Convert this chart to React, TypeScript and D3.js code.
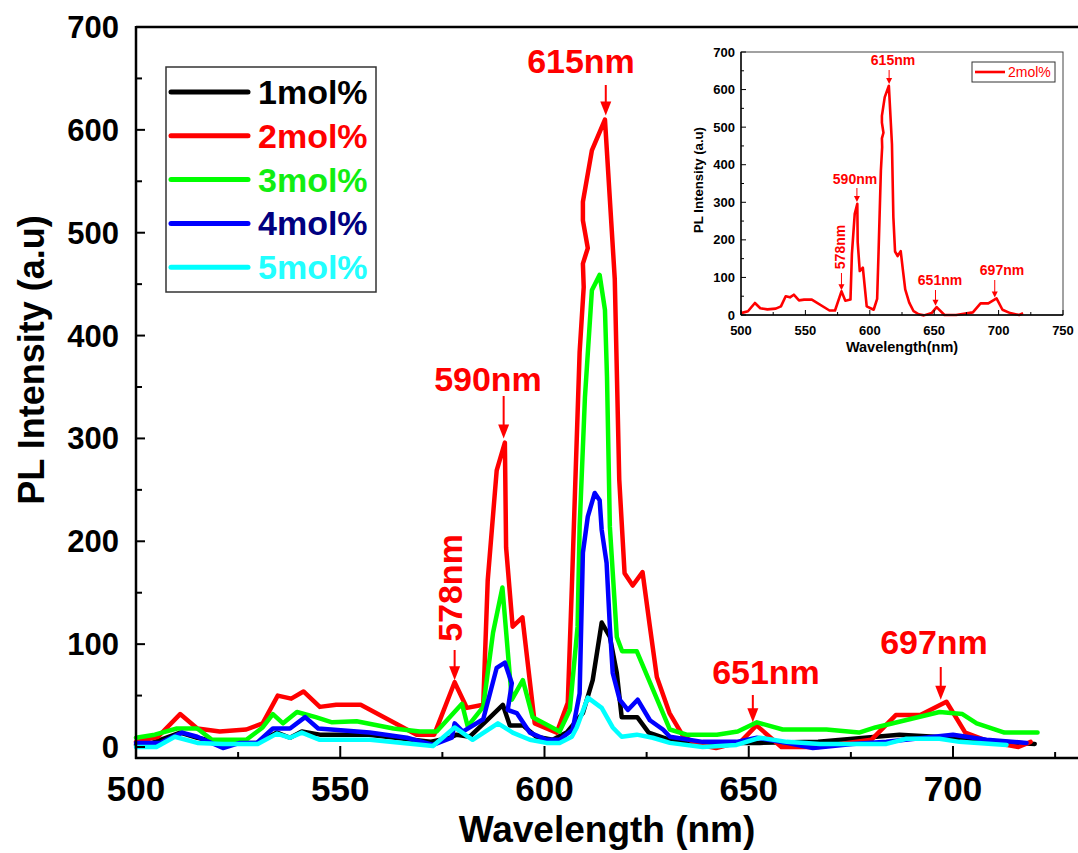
import React from "react";
import * as d3 from "d3";

type Pt = [number, number];

// ---- data (wavelength nm, intensity a.u.) ----
const mol1: Pt[] = [[500,2],[504,4],[510.8,14],[515,9],[521,4],[529.6,4],[534.5,14],[537.7,9],[540.6,15],[545,12],[557,12],[572,5],[576.8,9],[578.5,12],[581.7,10],[585.9,26],[589.8,41],[591.5,21],[594.7,21],[598,10],[602,7],[605.4,14],[609.4,33],[611.8,65],[614,121],[616,107],[617.7,72],[618.9,29],[622.7,29],[625.5,14],[630.7,7],[640,4],[652.7,4],[667,5],[686.9,12],[700,9],[712,5],[720,3]];
const mol2: Pt[] = [[500,5],[505.4,10],[510.8,32],[515,18],[520.5,15],[527,17],[531,23],[534.7,50],[538,47],[541,54],[545,39],[549,41],[555,41],[568.7,12],[573,12],[578,63],[581,38],[585,41],[586.1,162],[588.3,269],[590.3,296],[590.6,194],[592.2,117],[594.6,126],[597.6,23],[603,14],[605.7,43],[606.7,156],[608.6,384],[609.6,447],[609.4,470],[610.6,485],[609.4,512],[609.4,530],[611.6,580],[614.8,610],[617.2,455],[618.3,260],[619.6,169],[621.6,157],[624,170],[625.8,117],[627.5,68],[630.6,33],[634,10],[638,2],[642,-1],[648,5],[651.9,21],[658,0],[667,0],[680,7],[686,31],[692,31],[698.4,44],[703,14],[709,5],[716,0],[719,5]];
const mol3: Pt[] = [[500,9],[504.6,12],[510,18],[515,18],[518.6,7],[527,7],[531,19],[533.5,32],[536,23],[539.4,34],[544,29],[548,24],[554,25],[563,18],[569.5,15],[573.6,15],[579.8,42],[581.2,20],[585,39],[587.4,111],[589.7,155],[592,46],[594.7,65],[597.1,29],[603.7,15],[606.2,36],[608.1,117],[608.6,214],[609.9,340],[611.6,444],[613.5,459],[614.8,425],[615.3,360],[616,214],[617.7,107],[619,93],[622.6,93],[630.7,17],[634.8,12],[642.2,12],[647.3,15],[652,24],[658.3,17],[669,17],[677,14],[681,19],[696.7,34],[702.3,32],[705.8,23],[712.6,14],[720.7,14]];
const mol4: Pt[] = [[500,4],[506,4],[511.3,14],[515,10],[521.3,-1],[525.4,4],[529.6,4],[533.5,18],[537.7,18],[541.4,29],[544.6,18],[557.2,14],[566.3,9],[572.7,2],[577.3,9],[578,23],[580,15],[585,27],[588.3,77],[590.3,82],[592,62],[591,36],[593.2,33],[596.4,14],[600.5,7],[603.7,7],[606.9,17],[608.6,52],[609.4,189],[610.6,224],[612.3,247],[613.5,240],[614,211],[615.2,179],[616,117],[616.7,72],[618.4,46],[620.4,36],[622.8,46],[625.8,26],[629,17],[630.7,10],[638.7,5],[647,5],[652,9],[659.3,4],[665.7,-1],[675.4,3],[683.7,5],[700,12],[708.2,7],[718,4]];
const mol5: Pt[] = [[500,0],[505,0],[509.5,10],[515,4],[521.3,3],[529.8,3],[534.5,13],[537.7,9],[540.6,14],[545,7],[557.3,7],[565.3,4],[572.7,1],[578,19],[582.4,7],[588.6,23],[592.2,14],[596.4,7],[600.5,4],[603.7,4],[606.7,10],[607.9,19],[610.6,48],[614,38],[616.7,19],[618.9,10],[622.6,12],[626.5,9],[630.7,4],[638.7,0],[647,2],[652.7,9],[659.3,5],[667.4,3],[683.7,3],[688.6,8],[696.7,8],[701.6,5],[713.1,2]];

const seriesNames = ["1mol%", "2mol%", "3mol%", "4mol%", "5mol%"];
const seriesData = [mol1, mol2, mol3, mol4, mol5];
const lineColors = ["#000000", "#ff0000", "#00ff00", "#0000ff", "#00ffff"];
const legendTextColors = ["#000000", "#ff0000", "#11ee11", "#000080", "#22ffff"];

const xMajor = [500, 550, 600, 650, 700];
const xMinor = [525, 575, 625, 675, 725];
const yMajor = [0, 100, 200, 300, 400, 500, 600, 700];
const yMinor = [50, 150, 250, 350, 450, 550, 650];

const insetXMajor = [500, 550, 600, 650, 700, 750];
const insetXMinor = [525, 575, 625, 675, 725];

const peaks = [
  { label: "578nm", wl: 578, value: 63, rotate: true },
  { label: "590nm", wl: 590, value: 298, rotate: false },
  { label: "615nm", wl: 615, value: 612, rotate: false },
  { label: "651nm", wl: 651, value: 22, rotate: false },
  { label: "697nm", wl: 697, value: 44, rotate: false },
];

const FONT = "'Liberation Sans', Arial, Helvetica, sans-serif";

function Arrow({ x, y1, y2, hl, hw, sw }: { x: number; y1: number; y2: number; hl: number; hw: number; sw: number }) {
  return (
    <g>
      <line x1={x} y1={y1} x2={x} y2={y2 - hl + 1} stroke="#ff0000" strokeWidth={sw} />
      <polygon points={`${x - hw},${y2 - hl} ${x + hw},${y2 - hl} ${x},${y2}`} fill="#ff0000" />
    </g>
  );
}

export default function App() {
  const W = 1078, H = 853;
  const x = d3.scaleLinear().domain([500, 700]).range([136, 953]);
  const y = d3.scaleLinear().domain([0, 700]).range([747, 27]);
  const axisY = 758;
  const line = d3.line<Pt>().x(d => x(d[0])).y(d => y(d[1])).curve(d3.curveLinear);

  // inset
  const ix = d3.scaleLinear().domain([500, 750]).range([741, 1063]);
  const iy = d3.scaleLinear().domain([0, 700]).range([315, 52]);
  const iline = d3.line<Pt>().x(d => ix(d[0])).y(d => iy(d[1]));

  const mainAnn: Record<string, { tx: number; ty: number; a1: number; gap: number }> = {
    "578nm": { tx: 462, ty: 588, a1: 650, gap: 2 },
    "590nm": { tx: 488, ty: 391, a1: 396, gap: 2 },
    "615nm": { tx: 581, ty: 73, a1: 85, gap: 2 },
    "651nm": { tx: 766, ty: 684, a1: 695, gap: 2 },
    "697nm": { tx: 934, ty: 654, a1: 667, gap: 2 },
  };
  const insetAnn: Record<string, { tx: number; ty: number; a1: number }> = {
    "578nm": { tx: 845, ty: 247, a1: 273 },
    "590nm": { tx: 855, ty: 184, a1: 188 },
    "615nm": { tx: 893, ty: 65, a1: 70 },
    "651nm": { tx: 940, ty: 285, a1: 290 },
    "697nm": { tx: 1002, ty: 275, a1: 280 },
  };

  return (
    <svg width={W} height={H} style={{ display: "block", position: "absolute", left: 0, top: 0, background: "#fff" }} fontFamily={FONT}>
      <rect width={W} height={H} fill="#fff" />
      {seriesData.map((d, i) => (
        <path key={i} d={line(d) || ""} fill="none" stroke={lineColors[i]} strokeWidth={4.5} strokeLinejoin="round" strokeLinecap="round" />
      ))}

      <line x1={136} y1={27} x2={W} y2={27} stroke="#000" strokeWidth={2.5} />
      <line x1={136} y1={26} x2={136} y2={axisY + 1} stroke="#000" strokeWidth={2.5} />
      <line x1={135} y1={axisY} x2={W} y2={axisY} stroke="#000" strokeWidth={2.5} />
      {xMajor.map(v => (
        <g key={"xM" + v}>
          <line x1={x(v)} x2={x(v)} y1={axisY} y2={axisY - 12} stroke="#000" strokeWidth={2} />
          <text x={x(v)} y={801} textAnchor="middle" fontSize={35} fontWeight="bold">{v}</text>
        </g>
      ))}
      {xMinor.map(v => (
        <line key={"xm" + v} x1={x(v)} x2={x(v)} y1={axisY} y2={axisY - 6} stroke="#000" strokeWidth={2} />
      ))}
      {yMajor.map(v => (
        <g key={"yM" + v}>
          <line x1={136} x2={145} y1={y(v)} y2={y(v)} stroke="#000" strokeWidth={2} />
          <text x={119} y={y(v) + 11} textAnchor="end" fontSize={31} fontWeight="bold">{v}</text>
        </g>
      ))}
      {yMinor.map(v => (
        <line key={"ym" + v} x1={136} x2={142} y1={y(v)} y2={y(v)} stroke="#000" strokeWidth={2} />
      ))}
      <text x={607} y={842} textAnchor="middle" fontSize={37} fontWeight="bold">Wavelength (nm)</text>
      <text transform="translate(44,360) rotate(-90)" textAnchor="middle" fontSize={36} fontWeight="bold">PL Intensity (a.u)</text>

      <rect x={166} y={67} width={210} height={225} fill="#fff" stroke="#333" strokeWidth={1.5} />
      {seriesNames.map((n, i) => {
        const ly = 92 + i * 43.8;
        return (
          <g key={n}>
            <line x1={171} x2={248} y1={ly} y2={ly} stroke={lineColors[i]} strokeWidth={5} strokeLinecap="round" />
            <text x={258} y={ly + 12} fontSize={34} fontWeight="bold" fill={legendTextColors[i]}>{n}</text>
          </g>
        );
      })}

      {peaks.map(p => {
        const a = mainAnn[p.label];
        const px = x(p.wl);
        const tip = y(p.value);
        return (
          <g key={"ma" + p.label}>
            {p.rotate ? (
              <text transform={`translate(${a.tx},${a.ty}) rotate(-90)`} textAnchor="middle" fontSize={34} fontWeight="bold" fill="#ff0000">{p.label}</text>
            ) : (
              <text x={a.tx} y={a.ty} textAnchor="middle" fontSize={34} fontWeight="bold" fill="#ff0000">{p.label}</text>
            )}
            <Arrow x={px} y1={a.a1} y2={tip - a.gap} hl={14} hw={5.5} sw={2} />
          </g>
        );
      })}

      <g>
        <path d={iline(mol2) || ""} fill="none" stroke="#ff0000" strokeWidth={2.6} strokeLinejoin="round" />
        <rect x={741} y={52} width={322} height={263} fill="none" stroke="#444" strokeWidth={1} />
        <line x1={741} y1={52} x2={741} y2={315} stroke="#000" strokeWidth={1.4} />
        <line x1={741} y1={315} x2={1063} y2={315} stroke="#000" strokeWidth={1.4} />
        {insetXMajor.map(v => (
          <g key={"ixM" + v}>
            <line x1={ix(v)} x2={ix(v)} y1={315} y2={310} stroke="#000" strokeWidth={1} />
            <text x={ix(v)} y={335} textAnchor="middle" fontSize={13} fontWeight="bold">{v}</text>
          </g>
        ))}
        {insetXMinor.map(v => (
          <line key={"ixm" + v} x1={ix(v)} x2={ix(v)} y1={315} y2={312} stroke="#000" strokeWidth={1} />
        ))}
        {yMajor.map(v => (
          <g key={"iyM" + v}>
            <line x1={741} x2={746} y1={iy(v)} y2={iy(v)} stroke="#000" strokeWidth={1} />
            <text x={735} y={iy(v) + 4.5} textAnchor="end" fontSize={13} fontWeight="bold">{v}</text>
          </g>
        ))}
        {yMinor.map(v => (
          <line key={"iym" + v} x1={741} x2={744} y1={iy(v)} y2={iy(v)} stroke="#000" strokeWidth={1} />
        ))}
        <text x={902} y={352} textAnchor="middle" fontSize={14.5} fontWeight="bold">Wavelength(nm)</text>
        <text transform="translate(703,180) rotate(-90)" textAnchor="middle" fontSize={13.2} fontWeight="bold">PL Intensity (a.u)</text>
        <rect x={972} y={62} width={83} height={20} fill="#fff" stroke="#333" strokeWidth={1} />
        <line x1={975} x2={1005} y1={72} y2={72} stroke="#ff0000" strokeWidth={2.6} />
        <text x={1008} y={77} fontSize={14} fill="#ff0000">{seriesNames[1]}</text>
        {peaks.map(p => {
          const a = insetAnn[p.label];
          const px = ix(p.wl);
          const tip = iy(p.value) - 1;
          return (
            <g key={"ia" + p.label}>
              {p.rotate ? (
                <text transform={`translate(${a.tx},${a.ty}) rotate(-90)`} textAnchor="middle" fontSize={14} fontWeight="bold" fill="#ff0000">{p.label}</text>
              ) : (
                <text x={a.tx} y={a.ty} textAnchor="middle" fontSize={14} fontWeight="bold" fill="#ff0000">{p.label}</text>
              )}
              <Arrow x={px} y1={a.a1} y2={tip} hl={6} hw={3} sw={1} />
            </g>
          );
        })}
      </g>
    </svg>
  );
}
